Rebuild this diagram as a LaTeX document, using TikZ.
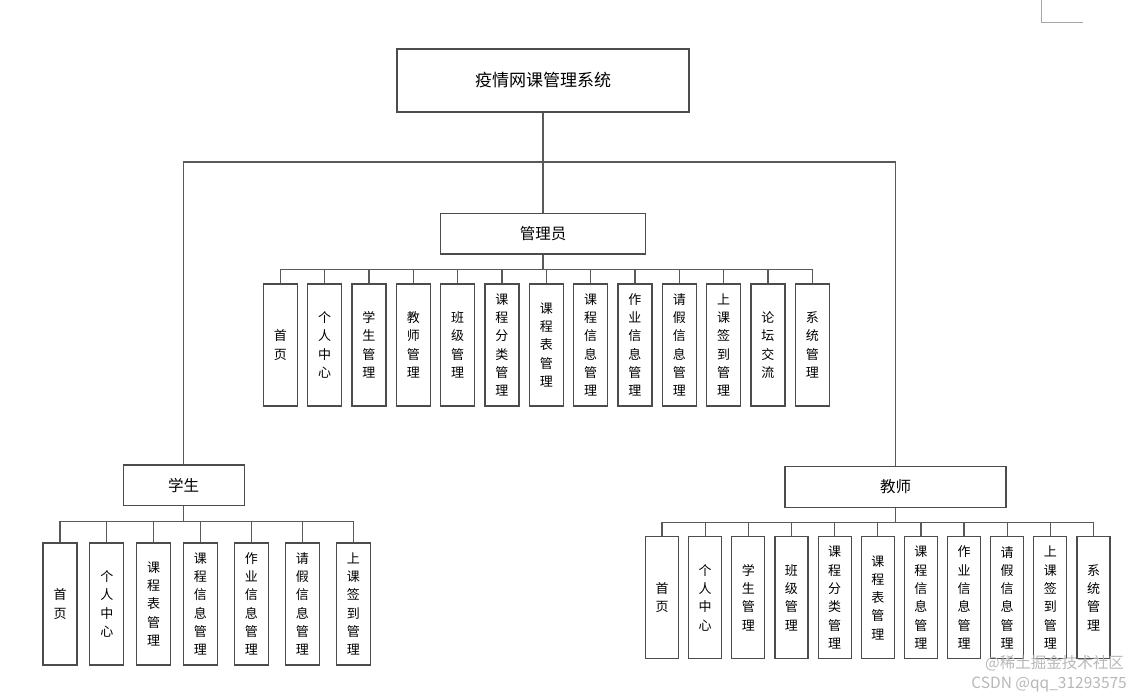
\documentclass[tikz,border=0pt]{standalone}
\usepackage{fontspec}
\setmainfont{Noto Sans CJK SC}
\usetikzlibrary{positioning}

\tikzset{
  box/.style={draw=black!70, line width=1.2pt, inner sep=0pt, align=center, font=\fontsize{15.5}{18}\selectfont},
  leaf/.style={box, minimum height=122, anchor=north, font=\fontsize{13}{18.3}\selectfont},
  link/.style={draw=black!65, line width=1.2pt},
}

\begin{document}
\begin{tikzpicture}[x=1pt, y=-1pt]
\useasboundingbox (0,0) rectangle (1143,699);
\node[box, minimum width=292, minimum height=63, font=\fontsize{17}{20}\selectfont] (sys) at (543,80.5) {疫情网课管理系统};
\node[box, minimum width=205, minimum height=40.7] (admin) at (543,233.7) {管理员};
\node[box, minimum width=121, minimum height=40.5] (stu) at (183.7,485.3) {学生};
\node[box, minimum width=221, minimum height=40.6] (tea) at (895.5,487) {教师};
\coordinate (split) at (543,162);
\coordinate (busA) at (543,269.3);
\coordinate (busS) at (183.7,521.3);
\coordinate (busT) at (895.5,522.7);
\draw[link] (sys.south) -- (admin.north);
\draw[link] (stu.north) |- (split) -| (tea.north);
\draw[link] (admin.south) -- (busA);
\draw[link] (stu.south) -- (busS);
\draw[link] (tea.south) -- (busT);
% admin modules
\foreach \txt [count=\i] in {首\\页, 个\\人\\中\\心, 学\\生\\管\\理, 教\\师\\管\\理, 班\\级\\管\\理, 课\\程\\分\\类\\管\\理, 课\\程\\表\\管\\理, 课\\程\\信\\息\\管\\理, 作\\业\\信\\息\\管\\理, 请\\假\\信\\息\\管\\理, 上\\课\\签\\到\\管\\理, 论\\坛\\交\\流, 系\\统\\管\\理}{
  \node[leaf, minimum width=34] (a\i) at ({280.3+44.33*(\i-1)},283.3) {\txt};
  \draw[link] (busA) -| (a\i.north);
}
% student modules
\foreach \cx/\txt [count=\i] in {60/首\\页, 106.8/个\\人\\中\\心, 153.5/课\\程\\表\\管\\理, 200.3/课\\程\\信\\息\\管\\理, 251.3/作\\业\\信\\息\\管\\理, 302.3/请\\假\\信\\息\\管\\理, 353.3/上\\课\\签\\到\\管\\理}{
  \node[leaf, minimum width=34] (s\i) at (\cx,542.3) {\txt};
  \draw[link] (busS) -| (s\i.north);
}
% teacher modules
\foreach \txt [count=\i] in {首\\页, 个\\人\\中\\心, 学\\生\\管\\理, 班\\级\\管\\理, 课\\程\\分\\类\\管\\理, 课\\程\\表\\管\\理, 课\\程\\信\\息\\管\\理, 作\\业\\信\\息\\管\\理, 请\\假\\信\\息\\管\\理, 上\\课\\签\\到\\管\\理, 系\\统\\管\\理}{
  \node[leaf, minimum width=33] (t\i) at ({662+43.15*(\i-1)},536) {\txt};
  \draw[link] (busT) -| (t\i.north);
}
%page corner mark
\draw[black!35, line width=1pt] (1041.3,0) -- (1041.3,22) -- (1082.7,22);
\node[text=black!28, inner sep=0pt, anchor=east, font=\fontsize{15.5}{18}\selectfont] (wm1) at (1124,663) {@稀土掘金技术社区};
\node[text=black!28, inner sep=0pt, anchor=east, font=\fontsize{15.5}{18}\selectfont] (wm2) at (1127,684) {CSDN @qq\_31293575};
\end{tikzpicture}
\end{document}
